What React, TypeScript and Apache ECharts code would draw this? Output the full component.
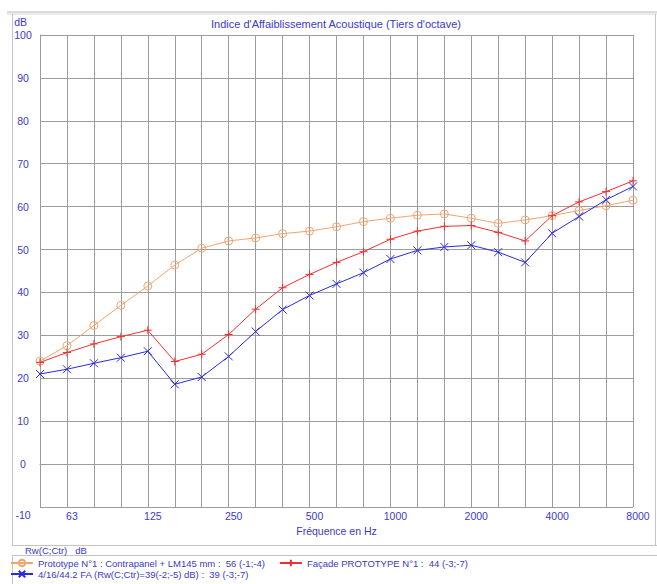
import React, { useEffect, useRef } from "react";
import * as echarts from "echarts";

const categories = ["50","63","80","100","125","160","200","250","315","400","500","630","800","1000","1250","1600","2000","2500","3150","4000","5000","6300","8000"];
const prototypeValues = [24.0,27.6,32.3,37.0,41.5,46.4,50.3,52.0,52.7,53.7,54.3,55.3,56.5,57.3,58.0,58.3,57.3,56.1,56.9,57.9,59.1,60.2,61.5];
const facadeValues = [23.7,26.0,28.0,29.7,31.2,23.9,25.6,30.2,36.1,41.1,44.2,47.0,49.5,52.4,54.3,55.4,55.6,54.0,52.0,57.9,61.1,63.5,66.0];
const vitrageValues = [21.0,22.1,23.5,24.8,26.3,18.6,20.3,25.1,30.9,36.0,39.3,42.0,44.6,47.8,49.8,50.6,51.0,49.4,47.0,53.8,57.7,61.6,64.7];
const seriesNames = [
  "Prototype N°1 : Contrapanel + LM145 mm :  56 (-1;-4)",
  "Façade PROTOTYPE N°1 :  44 (-3;-7)",
  "4/16/44.2 FA (Rw(C;Ctr)=39(-2;-5) dB) :  39 (-3;-7)",
];
const titleText = "Indice d'Affaiblissement Acoustique (Tiers d'octave)";
const xAxisName = "Fréquence en Hz";
const yAxisName = "dB";
const rwLabel = "Rw(C;Ctr)   dB";

const FONT = 'Arial, "Liberation Sans", Helvetica, sans-serif';
const TEXT_BLUE = "#3a3ac8";
const GRID_GRAY = "#9c9c9c";
const FRAME_GRAY = "#c4c4c4";

const CIRCLE = "path://M10,5A5,5 0 1,1 0,5A5,5 0 1,1 10,5Z";
const PLUS = "path://M5,0L5,10M0,5L10,5";
const CROSS = "path://M0,0L10,10M10,0L0,10";

function mkSeries(name: string, data: number[], color: string, symbol: string, size: number) {
  return {
    name,
    type: "line",
    data,
    symbol,
    symbolSize: size,
    showSymbol: true,
    lineStyle: { color, width: 1 },
    itemStyle: { color: "rgba(0,0,0,0)", borderColor: color, borderWidth: 1 },
    emphasis: { disabled: true },
  };
}

export default function App() {
  const ref = useRef<HTMLDivElement>(null);
  useEffect(() => {
    if (!ref.current) return;
    const chart = echarts.init(ref.current, null, { renderer: "svg" });
    const frameLine = (x1: number, y1: number, x2: number, y2: number, stroke = FRAME_GRAY) => ({
      type: "line",
      silent: true,
      z: -1,
      shape: { x1, y1, x2, y2 },
      style: { stroke, lineWidth: 1 },
    });
    const legendText = { color: TEXT_BLUE, fontSize: 9.5, fontFamily: FONT, lineHeight: 10 };
    chart.setOption({
      animation: false,
      backgroundColor: "#ffffff",
      title: {
        text: titleText,
        left: 336,
        top: 18,
        textAlign: "center",
        padding: 0,
        textStyle: { color: TEXT_BLUE, fontSize: 11, fontWeight: "normal", fontFamily: FONT },
      },
      grid: { left: 40, right: 24, top: 35, bottom: 77, containLabel: false },
      xAxis: {
        type: "category",
        data: categories,
        boundaryGap: false,
        name: xAxisName,
        nameLocation: "middle",
        nameGap: 14,
        nameTextStyle: { color: TEXT_BLUE, fontSize: 10.5, fontFamily: FONT },
        axisLine: { show: true, lineStyle: { color: GRID_GRAY, width: 1 } },
        axisTick: { show: false },
        axisLabel: {
          interval: (i: number) => i % 3 === 1,
          color: TEXT_BLUE,
          fontSize: 10.5,
          fontFamily: FONT,
          margin: 3,
          padding: [0, 0, 0, 10],
        },
        splitLine: { show: true, interval: 0, lineStyle: { color: GRID_GRAY, width: 1 } },
      },
      yAxis: {
        type: "value",
        min: -10,
        max: 100,
        interval: 10,
        name: yAxisName,
        nameLocation: "end",
        nameGap: 8,
        nameTextStyle: { color: TEXT_BLUE, fontSize: 10.5, fontFamily: FONT, align: "right", padding: [0, 13, 0, 0] },
        axisLine: { show: true, lineStyle: { color: GRID_GRAY, width: 1 } },
        axisTick: { show: false },
        axisLabel: {
          color: TEXT_BLUE,
          fontSize: 10.5,
          fontFamily: FONT,
          align: "center",
          margin: 17,
          formatter: (v: number) => (v === -10 ? "{low|-10}" : String(v)),
          rich: { low: { color: TEXT_BLUE, fontSize: 10.5, fontFamily: FONT, padding: [16, 0, 0, 0] } },
        },
        splitLine: { show: true, lineStyle: { color: GRID_GRAY, width: 1 } },
      },
      legend: [
        {
          data: [seriesNames[0], seriesNames[1]],
          left: 10,
          top: 558,
          padding: 0,
          itemWidth: 22,
          itemHeight: 8,
          itemGap: 14,
          selectedMode: false,
          textStyle: legendText,
        },
        {
          data: [seriesNames[2]],
          left: 10,
          top: 569,
          padding: 0,
          itemWidth: 22,
          itemHeight: 8,
          itemGap: 14,
          selectedMode: false,
          textStyle: legendText,
        },
      ],
      graphic: [
        frameLine(7, 12, 657, 12, "#b8b8b8"),
        frameLine(7, 14, 657, 14, "#d4d4d4"),
        frameLine(12.5, 14, 12.5, 545.5),
        frameLine(655.5, 14, 655.5, 545.5),
        frameLine(12, 545.5, 657, 545.5),
        frameLine(12, 555.5, 657, 555.5),
        frameLine(12.5, 555.5, 12.5, 584),
        {
          type: "text",
          silent: true,
          x: 25,
          y: 550.5,
          style: { text: rwLabel, fill: TEXT_BLUE, fontSize: 9.5, fontFamily: FONT, verticalAlign: "middle" },
        },
      ],
      series: [
        mkSeries(seriesNames[0], prototypeValues, "#f2a46c", CIRCLE, 8),
        mkSeries(seriesNames[1], facadeValues, "#f03030", PLUS, 8),
        mkSeries(seriesNames[2], vitrageValues, "#2a2ae0", CROSS, 8),
      ],
    });
    return () => chart.dispose();
  }, []);
  return (
    <div
      ref={ref}
      style={{ position: "fixed", left: 0, top: 0, width: 657, height: 584, background: "#fff" }}
    />
  );
}
